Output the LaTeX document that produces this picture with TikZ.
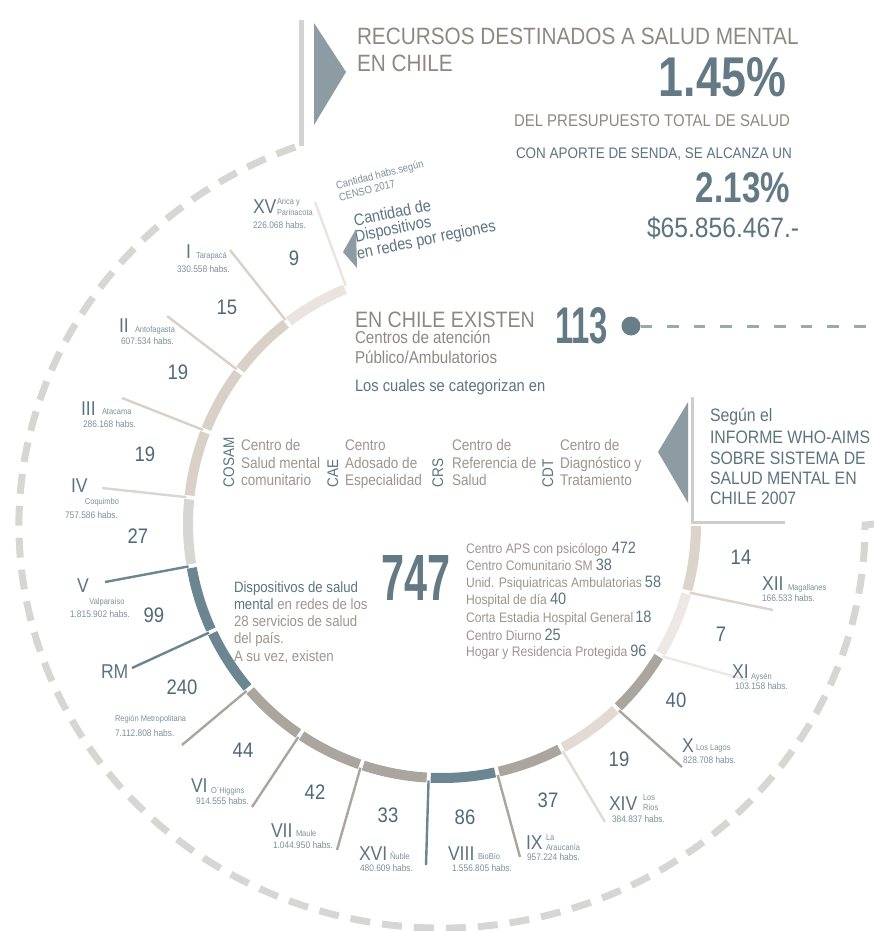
\documentclass[tikz,border=0pt]{standalone}
\usepackage{fontspec}
\setmainfont{Liberation Sans}[FakeStretch=0.88]
\usetikzlibrary{calc}
\definecolor{warmtx}{HTML}{8E8882}
\definecolor{warmlt}{HTML}{9C958E}
\definecolor{tealtx}{HTML}{5B7480}
\definecolor{tealbig}{HTML}{637A85}
\definecolor{tealnum}{HTML}{506976}
\definecolor{tealsm}{HTML}{7B9099}
\definecolor{dashgray}{HTML}{D6D6D3}
\definecolor{bargray}{HTML}{D3D3D1}
\definecolor{boxgray}{HTML}{CDCDCB}
\definecolor{arrowgray}{HTML}{8D9BA2}
\definecolor{dotteal}{HTML}{687F89}
\definecolor{linegray}{HTML}{9DA8AE}
\definecolor{sXV}{HTML}{EAE4E0}
\definecolor{sbeige}{HTML}{D9D0C7}
\definecolor{sIV}{HTML}{D6D6D3}
\definecolor{steal}{HTML}{6B8690}
\definecolor{sgray}{HTML}{AAA69D}
\definecolor{sXIV}{HTML}{E2DAD3}
\definecolor{sXI}{HTML}{EDE8E5}
\definecolor{sXII}{HTML}{DCD3CB}
\newcommand{\fsz}[1]{\fontsize{#1}{#1}\selectfont}
\begin{document}
\begin{tikzpicture}[x=1pt,y=1pt,
  every node/.style={inner sep=0pt,outer sep=0pt},
  lbl/.style={anchor=base west},
  rn/.style={anchor=base west,text=tealtx,font=\fsz{20}},
  rname/.style={anchor=base west,text=tealsm,font=\fsz{8.5}},
  rhabs/.style={anchor=base west,text=tealsm,font=\fsz{9.5}},
  num/.style={text=tealnum,font=\fsz{21}},
  seg/.style={line width=10pt},
  leader/.style={line width=2.4pt},
  cat/.style={anchor=base west,text=warmlt,font=\fsz{15.4}},
  catab/.style={anchor=base west,rotate=90,text=tealtx,font=\fsz{15.4}},
  who/.style={anchor=base west,text=tealtx,font=\fsz{18}},
  lst/.style={anchor=base west,text=warmlt,font=\fsz{13.8}},
  dsp/.style={anchor=base west,text=warmlt,font=\fsz{15}},
  rotsm/.style={anchor=base west,rotate=14,text=tealsm,font=\fsz{10.8}},
  rotbig/.style={anchor=base west,rotate=11.5,text=tealtx,font=\fsz{16.5}},
]
\useasboundingbox (0,0) rectangle (874,-931);
\coordinate (c) at (442,-524);
\coordinate (ec) at (442,-525);

% top bar and dashed outer ellipse
\coordinate (barT) at (301,-20);
\coordinate (barB) at (301,-146);
\draw[bargray,line width=5pt] (barT) -- (barB);
\coordinate (es) at ($(ec)+(110.3:423 and 403)$);
\coordinate (eend) at (874,-524);
\draw[dashgray,line width=7pt,dash pattern=on 20pt off 12pt]
  (es) arc[start angle=110.3,end angle=360,x radius=423,y radius=403] -- (eend);

% top triangle
\coordinate (t1) at (314,-23);
\coordinate (t2) at (314,-125);
\coordinate (t3) at (346,-72);
\fill[arrowgray] (t1) -- (t3) -- (t2) -- cycle;

% ring segments
\foreach \i/\col in {0/sXV,1/sbeige,2/sbeige,3/sbeige,4/sIV,5/steal,6/steal,7/sgray,8/sgray,9/sgray,10/steal,11/sgray,12/sXIV,13/sgray,14/sXI,15/sXII}{
  \pgfmathsetmacro\aa{112+15.5*\i+0.45}
  \pgfmathsetmacro\ab{112+15.5*(\i+1)-0.45}
  \draw[seg,\col] ($(c)+(\aa:254)$) arc[start angle=\aa,end angle=\ab,radius=254];
}

% leaders
\foreach \i/\col/\ex/\ey in {0/sXV/315/202,1/sbeige/230/250,2/sbeige/167/316,3/sbeige/122/398,4/sIV/102/488,5/steal/105/582,6/steal/132/668,7/sgray/182/745,8/sgray/252/807,9/sgray/337/850,10/steal/426/865,11/sgray/520/857,12/sXIV/605/822,13/sgray/682/767,14/sXI/747/680,15/sXII/773/610}{
  \pgfmathsetmacro\ang{112+15.5*\i}
  \coordinate (lb\i) at ($(c)+(\ang:257)$);
  \coordinate (le\i) at (\ex,-\ey);
  \draw[leader,\col] (lb\i) -- (le\i);
}

% segment numbers
\foreach \n/\x/\y [count=\k] in {9/294/258,15/227/307,19/178/372,19/145/454,27/138/536,99/154/615,240/182/687,44/243/750,42/315/792,33/388/815,86/465/817,37/548/800,19/619/759,40/676/700,7/721/634,14/741/557}{
  \node[num] (n\k) at (\x,-\y) {\n};
}

% region labels
\node[rn] (rXV) at (253,-213) {XV};
\node[rname] (nXVa) at (277,-204) {Arica y};
\node[rname] (nXVb) at (277,-215) {Parinacota};
\node[rhabs] (hXV) at (253,-228) {226.068 habs.};
\node[rn] (rI) at (186,-258) {I};
\node[rname] (nI) at (196,-258) {Tarapacá};
\node[rhabs] (hI) at (177,-272) {330.558 habs.};
\node[rn] (rII) at (119,-332) {II};
\node[rname] (nII) at (135,-332) {Antofagasta};
\node[rhabs] (hII) at (121,-344) {607.534 habs.};
\node[rn] (rIII) at (81,-415) {III};
\node[rname] (nIII) at (102,-414) {Atacama};
\node[rhabs] (hIII) at (83,-427) {286.168 habs.};
\node[rn] (rIV) at (71,-492) {IV};
\node[anchor=base,text=tealsm,font=\fsz{8.5}] (nIV) at (102,-504) {Coquimbo};
\node[rhabs] (hIV) at (65,-518) {757.586 habs.};
\node[rn] (rV) at (77,-592) {V};
\node[anchor=base,text=tealsm,font=\fsz{8.5}] (nV) at (107,-604) {Valparaíso};
\node[rhabs] (hV) at (70,-617) {1.815.902 habs.};
\node[rn] (rRM) at (101,-678) {RM};
\node[rname] (nRM) at (115,-721) {Región Metropolitana};
\node[rhabs] (hRM) at (115,-736) {7.112.808 habs.};
\node[rn] (rVI) at (191,-792) {VI};
\node[rname] (nVI) at (211,-793) {O´Higgins};
\node[rhabs] (hVI) at (196,-804) {914.555 habs.};
\node[rn] (rVII) at (271,-837) {VII};
\node[rname] (nVII) at (296,-836) {Maule};
\node[rhabs] (hVII) at (273,-848) {1.044.950 habs.};
\node[rn] (rXVI) at (359,-860) {XVI};
\node[rname] (nXVI) at (390,-859) {Ñuble};
\node[rhabs] (hXVI) at (360,-871) {480.609 habs.};
\node[rn] (rVIII) at (448,-860) {VIII};
\node[rname] (nVIII) at (478,-859) {BioBío};
\node[rhabs] (hVIII) at (452,-871) {1.556.805 habs.};
\node[rn] (rIX) at (526,-849) {IX};
\node[rname] (nIXa) at (546,-840) {La};
\node[rname] (nIXb) at (546,-850) {Araucanía};
\node[rhabs] (hIX) at (527,-860) {957.224 habs.};
\node[rn] (rXIV) at (609,-810) {XIV};
\node[rname] (nXIVa) at (643,-800) {Los};
\node[rname] (nXIVb) at (643,-810) {Ríos};
\node[rhabs] (hXIV) at (612,-822) {384.837 habs.};
\node[rn] (rX) at (682,-752) {X};
\node[rname] (nX) at (696,-750) {Los Lagos};
\node[rhabs] (hX) at (683,-763) {828.708 habs.};
\node[rn] (rXI) at (732,-678) {XI};
\node[rname] (nXI) at (751,-679) {Aysén};
\node[rhabs] (hXI) at (735,-689) {103.158 habs.};
\node[rn] (rXII) at (762,-590) {XII};
\node[rname] (nXII) at (788,-590) {Magallanes};
\node[rhabs] (hXII) at (762,-601) {166.533 habs.};

% top texts
\node[lbl,text=warmtx,font=\fsz{23.6}] (title1) at (357,-45) {RECURSOS DESTINADOS A SALUD MENTAL};
\node[lbl,text=warmtx,font=\fsz{23.6}] (title2) at (357,-72) {EN CHILE};
\node[anchor=base east,text=tealbig] (p145) at (786,-97) {\resizebox{127pt}{39pt}{\bfseries 1.45\%}};
\node[lbl,text=warmtx,font=\fsz{17}] (presu) at (514,-127) {DEL PRESUPUESTO TOTAL DE SALUD};
\node[lbl,text=tealtx,font=\fsz{15.3}] (senda) at (516,-158) {CON APORTE DE SENDA, SE ALCANZA UN};
\node[anchor=base east,text=tealbig] (p213) at (790,-202) {\resizebox{94pt}{30pt}{\bfseries 2.13\%}};
\node[lbl,text=tealtx,font=\fsz{28}] (monto) at (647,-237) {\$65.856.467.-};

% rotated legend
\node[rotsm] (censoa) at (337,-189) {Cantidad habs.según};
\node[rotsm] (censob) at (340,-201) {CENSO 2017};
\node[rotbig] (cda) at (355,-226) {Cantidad de};
\node[rotbig] (cdb) at (356,-242) {Dispositivos};
\node[rotbig] (cdc) at (358,-259) {en redes por regiones};
\coordinate (ca1) at (356,-229);
\coordinate (ca2) at (343,-252);
\coordinate (ca3) at (357,-268);
\fill[arrowgray] (ca1) -- (ca2) -- (ca3) -- cycle;

% 113 block
\node[lbl,text=warmtx,font=\fsz{22.3}] (existen) at (355,-327) {EN CHILE EXISTEN};
\node[anchor=base west,text=tealbig] (n113) at (555,-343) {\resizebox{53pt}{36pt}{\bfseries 113}};
\node[circle,fill=dotteal,minimum size=19pt] (dot113) at (631,-326) {};
\coordinate (da) at (652,-326);
\coordinate (db) at (667,-326);
\coordinate (de) at (874,-326);
\draw[linegray,line width=3pt] (dot113.east) -- (da);
\draw[linegray,line width=3pt,dash pattern=on 11.7pt off 15pt] (db) -- (de);
\node[lbl,text=warmtx,font=\fsz{17.2}] (centros) at (355,-343) {Centros de atención};
\node[lbl,text=warmtx,font=\fsz{17.2}] (publico) at (355,-363) {Público/Ambulatorios};
\node[lbl,text=tealtx,font=\fsz{16.7}] (cuales) at (355,-391) {Los cuales se categorizan en};

% categories
\node[catab] (cosam) at (234,-487) {COSAM};
\node[cat] (cosama) at (241,-450) {Centro de};
\node[cat] (cosamb) at (241,-468) {Salud mental};
\node[cat] (cosamc) at (241,-485) {comunitario};
\node[catab] (cae) at (338,-487) {CAE};
\node[cat] (caea) at (345,-450) {Centro};
\node[cat] (caeb) at (345,-468) {Adosado de};
\node[cat] (caec) at (345,-485) {Especialidad};
\node[catab] (crs) at (443,-487) {CRS};
\node[cat] (crsa) at (452,-450) {Centro de};
\node[cat] (crsb) at (452,-468) {Referencia de};
\node[cat] (crsc) at (452,-485) {Salud};
\node[catab] (cdt) at (553,-487) {CDT};
\node[cat] (cdta) at (560,-450) {Centro de};
\node[cat] (cdtb) at (560,-468) {Diagnóstico y};
\node[cat] (cdtc) at (560,-485) {Tratamiento};

% WHO box
\coordinate (wtop) at (692,-397);
\coordinate (wcorner) at (692,-522);
\coordinate (wright) at (785,-522);
\draw[boxgray,line width=3pt] (wtop) -- (wcorner) -- (wright);
\coordinate (wa1) at (688,-402);
\coordinate (wa2) at (658,-452);
\coordinate (wa3) at (688,-503);
\fill[arrowgray] (wa1) -- (wa2) -- (wa3) -- cycle;
\node[who] (whoa) at (710,-421) {Según el};
\node[who] (whob) at (710,-443) {INFORME WHO-AIMS};
\node[who] (whoc) at (710,-464) {SOBRE SISTEMA DE};
\node[who] (whod) at (710,-484) {SALUD MENTAL EN};
\node[who] (whoe) at (710,-504) {CHILE 2007};

% 747 block
\node[dsp,text=tealtx] (dspa) at (234,-592) {Dispositivos de salud};
\node[dsp] (dspb) at (234,-609) {\textcolor{tealtx}{mental} en redes de los};
\node[dsp] (dspc) at (234,-626) {28 servicios de salud};
\node[dsp] (dspd) at (234,-643) {del país.};
\node[dsp] (dspe) at (234,-661) {A su vez, existen};
\node[anchor=base west,text=tealbig] (n747) at (381,-600) {\resizebox{69pt}{45pt}{\bfseries 747}};
\node[lst] (la) at (466,-553) {Centro APS con psicólogo\hspace{4pt}\textcolor{tealtx}{\fsz{16.5}472}};
\node[lst] (lb) at (466,-570) {Centro Comunitario SM\hspace{3pt}\textcolor{tealtx}{\fsz{16.5}38}};
\node[lst] (lc) at (466,-587) {Unid. Psiquiatricas Ambulatorias\hspace{3pt}\textcolor{tealtx}{\fsz{16.5}58}};
\node[lst] (ld) at (466,-604.5) {Hospital de día\hspace{3pt}\textcolor{tealtx}{\fsz{16.5}40}};
\node[lst] (le) at (466,-622) {Corta Estadia Hospital General\hspace{2pt}\textcolor{tealtx}{\fsz{16.5}18}};
\node[lst] (lf) at (466,-640) {Centro Diurno\hspace{3pt}\textcolor{tealtx}{\fsz{16.5}25}};
\node[lst] (lg) at (466,-656) {Hogar y Residencia Protegida\hspace{3pt}\textcolor{tealtx}{\fsz{16.5}96}};
\end{tikzpicture}
\end{document}
